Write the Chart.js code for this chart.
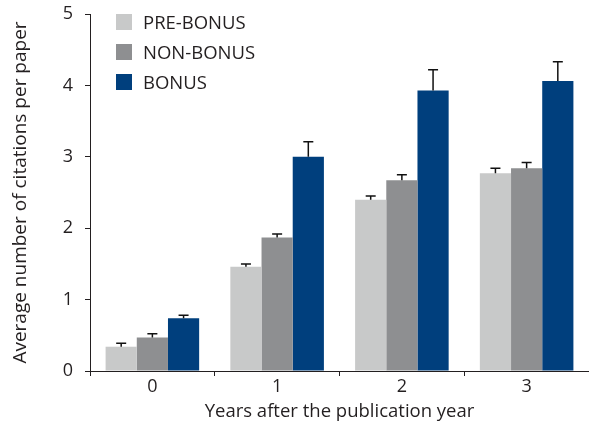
<!DOCTYPE html>
<html>
<head>
<meta charset="utf-8">
<script src="https://cdn.jsdelivr.net/npm/chart.js@4/dist/chart.umd.min.js"></script>
<style>
  html, body { margin: 0; padding: 0; background: #fff; }
  #wrap { position: relative; width: 589px; height: 432px; }
  #legend { position: absolute; left: 116px; top: 7px; font-family: "Open Sans", sans-serif; font-size: 18.5px; color: #231f20; }
  #legend div { height: 30px; line-height: 26px; display: flex; align-items: center; }
  #legend span.sw { display: inline-block; width: 16px; height: 16px; margin-right: 11px; }
</style>
</head>
<body>
<div id="wrap">
  <canvas id="chart" width="589" height="432"></canvas>
  <div id="legend"></div>
</div>
<script>
const categories = ['0', '1', '2', '3'];
const seriesNames = ['PRE-BONUS', 'NON-BONUS', 'BONUS'];
const colores = ['#c8c9c9', '#8e8f91', '#003f7d'];

// valores medios
const preBonus = [0.34, 1.46, 2.40, 2.77];
const nonBonus = [0.47, 1.87, 2.67, 2.84];
const bonus = [0.74, 3.00, 3.93, 4.06];

// errores (solo hacia arriba)
const preBonusErr = [0.05, 0.04, 0.05, 0.07];
const nonBonusErr = [0.05, 0.05, 0.08, 0.08];
const bonusErr = [0.04, 0.21, 0.29, 0.27];

const yTicks = [0, 1, 2, 3, 4, 5];

const valores = [preBonus, nonBonus, bonus];
const errores = [preBonusErr, nonBonusErr, bonusErr];

// Leyenda en HTML
const legend = document.getElementById('legend');
seriesNames.forEach((nombre, i) => {
  const fila = document.createElement('div');
  fila.innerHTML = '<span class="sw" style="background:' + colores[i] + '"></span>' + nombre;
  legend.appendChild(fila);
});

// Barras de error
const errorBars = {
  id: 'errorBars',
  afterDatasetsDraw(chart) {
    const ctx = chart.ctx;
    const y = chart.scales.y;
    ctx.save();
    ctx.strokeStyle = '#111';
    ctx.lineWidth = 1.5;
    chart.data.datasets.forEach((ds, i) => {
      const meta = chart.getDatasetMeta(i);
      meta.data.forEach((bar, j) => {
        const top = y.getPixelForValue(ds.data[j] + errores[i][j]);
        ctx.beginPath();
        ctx.moveTo(bar.x, bar.y);
        ctx.lineTo(bar.x, top);
        ctx.moveTo(bar.x - 5, top);
        ctx.lineTo(bar.x + 5, top);
        ctx.stroke();
      });
    });
    ctx.restore();
  }
};

const familia = '"Open Sans", sans-serif';

new Chart(document.getElementById('chart').getContext('2d'), {
  type: 'bar',
  data: {
    labels: categories,
    datasets: seriesNames.map((nombre, i) => ({
      label: nombre,
      data: valores[i],
      backgroundColor: colores[i],
      categoryPercentage: 0.75,
      barPercentage: 1.0
    }))
  },
  options: {
    responsive: false,
    animation: false,
    layout: { padding: { top: 14, right: 0, left: 0, bottom: 0 } },
    plugins: { legend: { display: false }, tooltip: { enabled: false } },
    scales: {
      x: {
        grid: { display: true, drawOnChartArea: false, offset: true, tickLength: 5, color: '#231f20' },
        border: { color: '#231f20', width: 1 },
        ticks: { color: '#231f20', font: { family: familia, size: 18 }, padding: 0 },
        title: { display: true, text: 'Years after the publication year', color: '#231f20', font: { family: familia, size: 18.5 }, padding: { top: 0, bottom: 9 } },
        afterFit(scale) { scale.height = 61; }
      },
      y: {
        min: 0,
        max: 5,
        afterBuildTicks(scale) { scale.ticks = yTicks.map(v => ({ value: v })); },
        grid: { display: true, drawOnChartArea: false, tickLength: 5, color: '#231f20' },
        border: { color: '#231f20', width: 1 },
        ticks: { color: '#231f20', font: { family: familia, size: 18 }, padding: 12 },
        title: { display: true, text: 'Average number of citations per paper', color: '#231f20', font: { family: familia, size: 19 }, padding: { top: 9, bottom: 4 } },
        afterFit(scale) {
          scale.width = 90;
          scale.paddingTop = 0;
          scale.paddingBottom = 0;
        }
      }
    }
  },
  plugins: [errorBars]
});
</script>
</body>
</html>
